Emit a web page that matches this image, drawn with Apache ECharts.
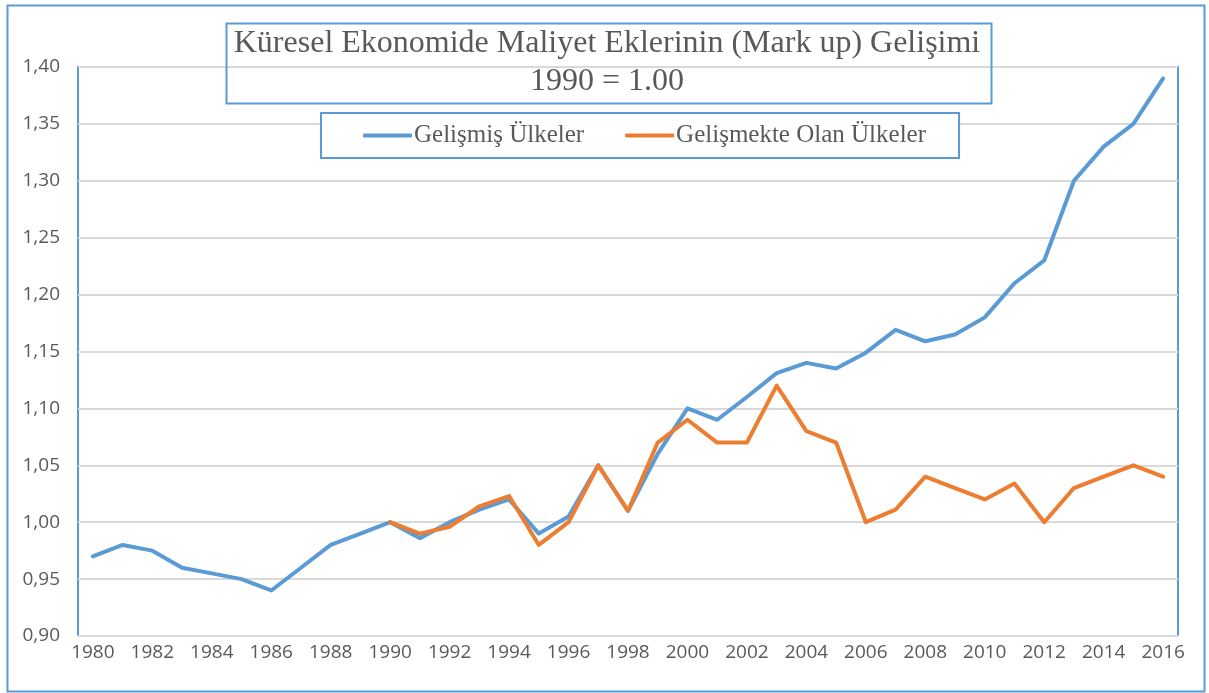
<!DOCTYPE html>
<html>
<head>
<meta charset="utf-8">
<script src="https://cdn.jsdelivr.net/npm/echarts@6/dist/echarts.min.js"></script>
<style>
  html, body { margin: 0; padding: 0; background: #fff; }
  #main { width: 1209px; height: 693px; }
</style>
</head>
<body>
<div id="main"></div>
<script>
// years on the x axis
const years = [];
for (let y = 1980; y <= 2016; y++) years.push(String(y));

// Gelişmiş Ülkeler (1980-2016)
const developed = [
  0.97, 0.98, 0.975, 0.96, 0.955, 0.95, 0.94, 0.96, 0.98, 0.99,
  1.00, 0.986, 1.00, 1.011, 1.02, 0.99, 1.005, 1.05, 1.01, 1.06,
  1.10, 1.09, 1.11, 1.131, 1.14, 1.135, 1.149, 1.169, 1.159, 1.165,
  1.18, 1.21, 1.23, 1.30, 1.33, 1.35, 1.39
];

// Gelişmekte Olan Ülkeler (starts in 1990)
const developing = [
  null, null, null, null, null, null, null, null, null, null,
  1.00, 0.99, 0.996, 1.014, 1.023, 0.98, 1.00, 1.05, 1.01, 1.07,
  1.09, 1.07, 1.07, 1.12, 1.08, 1.07, 1.00, 1.011, 1.04, 1.03,
  1.02, 1.034, 1.00, 1.03, 1.04, 1.05, 1.04
];

const titleText = "Küresel Ekonomide Maliyet Eklerinin (Mark up) Gelişimi";
const subText = "1990 = 1.00";

const blue = "#5B9BD5";
const orange = "#ED7D31";
const textGray = "#595959";

const chart = echarts.init(document.getElementById("main"));

chart.setOption({
  animation: false,
  backgroundColor: "#fff",
  grid: {
    left: 78, right: 31, top: 67, bottom: 57,
    show: true,
    borderColor: blue,
    borderWidth: 2,
    backgroundColor: "transparent"
  },
  legend: {
    left: 321,
    top: 113,
    padding: [10, 33, 10, 42],
    backgroundColor: "#fff",
    borderColor: blue,
    borderWidth: 2,
    borderRadius: 0,
    itemWidth: 49,
    itemHeight: 4,
    itemGap: 41,
    icon: "roundRect",
    textStyle: { fontFamily: "Liberation Serif", fontSize: 25, color: textGray, padding: [0, 0, 0, -3] },
    data: ["Gelişmiş Ülkeler", "Gelişmekte Olan Ülkeler"]
  },
  xAxis: {
    type: "category",
    data: years,
    boundaryGap: true,
    axisLine: { lineStyle: { color: "#D9D9D9", width: 2 } },
    axisTick: { show: false },
    axisLabel: {
      interval: 1,
      margin: 7,
      fontFamily: "Open Sans",
      fontSize: 19,
      color: textGray
    },
    splitLine: { show: false }
  },
  yAxis: {
    type: "value",
    min: 0.9,
    max: 1.4,
    interval: 0.05,
    axisLine: { show: false },
    axisTick: { show: false },
    axisLabel: {
      margin: 18,
      fontFamily: "Open Sans",
      fontSize: 19,
      color: textGray,
      formatter: v => v.toFixed(2).replace(".", ",")
    },
    splitLine: { lineStyle: { color: "#D9D9D9", width: 2 } }
  },
  series: [
    {
      name: "Gelişmiş Ülkeler",
      type: "line",
      data: developed,
      showSymbol: false,
      symbol: "none",
      lineStyle: { color: blue, width: 4, cap: "round", join: "round" },
      itemStyle: { color: blue },
      z: 3
    },
    {
      name: "Gelişmekte Olan Ülkeler",
      type: "line",
      data: developing,
      showSymbol: false,
      symbol: "none",
      lineStyle: { color: orange, width: 4, cap: "round", join: "round" },
      itemStyle: { color: orange },
      z: 4
    }
  ],
  graphic: [
    {
      type: "rect",
      left: 5, top: 3,
      shape: { width: 1197, height: 686 },
      style: { fill: "none", stroke: blue, lineWidth: 2 },
      silent: true
    },
    {
      type: "rect",
      left: 224, top: 21,
      shape: { width: 765, height: 80 },
      style: { fill: "none", stroke: blue, lineWidth: 2 },
      silent: true,
      z: 10
    },
    {
      type: "text",
      x: 607, y: 44,
      style: {
        text: titleText,
        font: "32px 'Liberation Serif'",
        fill: textGray,
        textAlign: "center",
        textVerticalAlign: "middle"
      },
      z: 10
    },
    {
      type: "text",
      x: 607, y: 82,
      style: {
        text: subText,
        font: "32px 'Liberation Serif'",
        fill: textGray,
        textAlign: "center",
        textVerticalAlign: "middle"
      },
      z: 10
    }
  ]
});
</script>
</body>
</html>
